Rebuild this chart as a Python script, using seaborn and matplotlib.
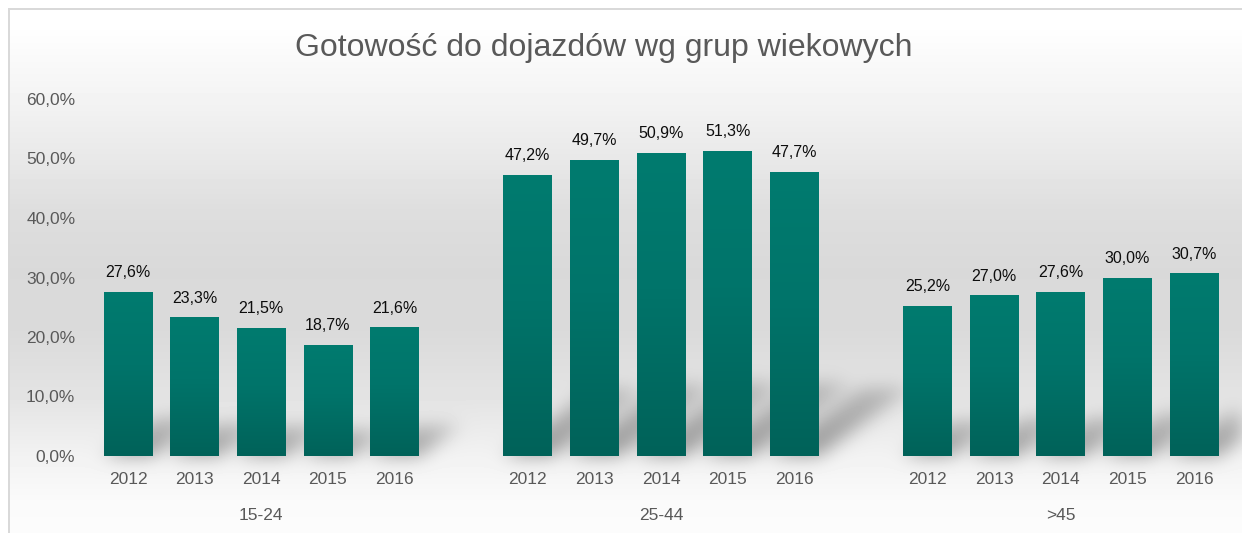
import numpy as np
import pandas as pd
import matplotlib
matplotlib.use("Agg")
import matplotlib.pyplot as plt
import matplotlib.transforms as mtransforms
from matplotlib.colors import LinearSegmentedColormap
import seaborn as sns

# ── dane ────────────────────────────────────────────────────────────────────
tytul = "Gotowość do dojazdów wg grup wiekowych"
grupy = ["15-24", "25-44", ">45"]
lata = ["2012", "2013", "2014", "2015", "2016"]
v_15_24 = [27.6, 23.3, 21.5, 18.7, 21.6]
v_25_44 = [47.2, 49.7, 50.9, 51.3, 47.7]
v_45 = [25.2, 27.0, 27.6, 30.0, 30.7]
y_ticks = [0, 10, 20, 30, 40, 50, 60]

W, H = 1242, 533
SZARY = "#595959"

sns.set_theme(style="white")
plt.rcParams["font.family"] = ["Liberation Sans", "DejaVu Sans"]

rows = []
for g, (grp, vals) in enumerate(zip(grupy, [v_15_24, v_25_44, v_45])):
    for i, (rok, v) in enumerate(zip(lata, vals)):
        rows.append({"grupa": grp, "rok": rok, "wartosc": v, "poz": g * 6 + i})
df = pd.DataFrame(rows)

fig = plt.figure(figsize=(W / 100, H / 100), dpi=100)
bg = fig.add_axes([0, 0, 1, 1], zorder=0)
bg.axis("off")
ax = fig.add_axes([94.7 / W, 1 - 456 / H, (1227.3 - 94.7) / W, (456 - 99) / H],
                  zorder=1)
ax.patch.set_alpha(0)

sns.barplot(data=df, x="poz", y="wartosc", native_scale=True, width=0.73,
            color="#00796d", saturation=1, errorbar=None, linewidth=0,
            edgecolor="none", ax=ax)

ax.set_xlim(-0.5, 16.5)
ax.set_ylim(0, 60)
ax.set_yticks(y_ticks)
ax.set_yticklabels([f"{t:.1f}%".replace(".", ",") for t in y_ticks])
ax.set_xticks(df["poz"])
ax.set_xticklabels(df["rok"])
ax.tick_params(axis="y", length=0, pad=14, labelsize=12.5, labelcolor=SZARY)
ax.tick_params(axis="x", length=0, pad=11.5, labelsize=12.5, labelcolor=SZARY)
ax.set_xlabel(""); ax.set_ylabel("")
for s in ax.spines.values():
    s.set_visible(False)
ax.grid(False)

# gradient na słupkach
cmap_bar = LinearSegmentedColormap.from_list(
    "bar", [(0, "#006259"), (0.55, "#00746a"), (1, "#007b6f")])
grad = np.linspace(0, 1, 256).reshape(-1, 1)
for p in list(ax.patches):
    x0, y0 = p.get_x(), p.get_y()
    x1, y1 = x0 + p.get_width(), y0 + p.get_height()
    im = ax.imshow(grad, extent=[x0, x1, y0, y1], origin="lower", aspect="auto",
                   cmap=cmap_bar, zorder=p.get_zorder() + 0.1)
    im.set_clip_path(p)
ax.set_xlim(-0.5, 16.5)
ax.set_ylim(0, 60)

# etykiety danych
for _, r in df.iterrows():
    ax.annotate(f"{r['wartosc']:.1f}%".replace(".", ","), (r["poz"], r["wartosc"]),
                xytext=(0, 8.5), textcoords="offset points", ha="center",
                va="bottom", fontsize=11.5, color="#0d0d0d")

# etykiety grup
trans = mtransforms.blended_transform_factory(ax.transData, ax.transAxes)
for g, grp in enumerate(grupy):
    ax.text(g * 6 + 2, -59 / 357, grp, transform=trans, ha="center", va="center",
            fontsize=12.5, color=SZARY)

fig.text(604 / W, 1 - 48 / H, tytul, ha="center", va="center", fontsize=23,
         color=SZARY)

# tło z gradientem i cieniem słupków
fig.canvas.draw()
yy = np.arange(H) + 0.5
stops_y = [0, 30, 100, 160, 210, 270, 330, 400, 456, 500, 533]
stops_v = [255, 254, 243, 232, 222, 217, 218, 228, 242, 250, 252]
col = np.interp(yy, stops_y, stops_v) / 255.0
img = np.repeat(col[:, None], W, axis=1)

X = (np.arange(W) + 0.5)[None, :]
Yd = (H - yy)[:, None]
S = np.zeros((H, W))
for p in ax.patches:
    bb = p.get_window_extent()
    h = bb.height
    dy = 0.24 * h
    dx = 1.35 * dy
    t = (Yd - bb.y0) / dy
    inside = (t >= 0) & (t <= 1) & (X >= bb.x0 + dx * t) & (X <= bb.x1 + dx * t)
    S = np.maximum(S, np.where(inside, 1 - 0.5 * t, 0))

sig = 9
k = np.exp(-0.5 * (np.arange(-3 * sig, 3 * sig + 1) / sig) ** 2)
k /= k.sum()
S = np.apply_along_axis(lambda r: np.convolve(r, k, mode="same"), 1, S)
S = np.apply_along_axis(lambda c: np.convolve(c, k, mode="same"), 0, S)
img = img * (1 - 0.38 * S)

img[:8, :] = 1.0
img[:, :8] = 1.0
img[8:10, 8:] = 217 / 255
img[8:, 8:10] = 217 / 255

bg.imshow(img, cmap="gray", vmin=0, vmax=1, extent=[0, 1, 0, 1], aspect="auto",
          interpolation="nearest")
bg.set_xlim(0, 1); bg.set_ylim(0, 1)

fig.savefig("out.png", dpi=100)
